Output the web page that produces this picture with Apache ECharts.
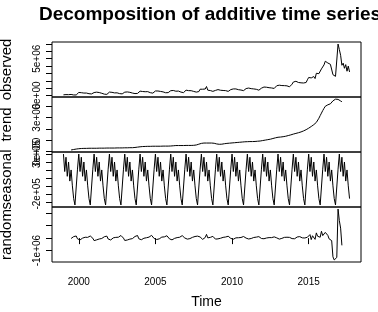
<!DOCTYPE html>
<html>
<head>
<meta charset="utf-8">
<script src="https://cdn.jsdelivr.net/npm/echarts@6/dist/echarts.min.js"></script>
<style>
  html, body { margin: 0; background: #fff; }
  #chart { width: 378px; height: 312px; }
</style>
</head>
<body>
<div id="chart"></div>
<script>
// monthly series, Jan 1999 .. Sep 2017; values in units of 1e5
const startYear = 1999
const freq = 12
const unit = 1e5
const trendOffset = 6 // trend / random lose half a year at each end

const observed = [
  0.9, 0.8, 1.2, 1.0, 1.1, 0.9, 1.4, 1.3, 0.7, 1.1, 0.7, 2.5,
  4.1, 3.3, 3.8, 3.5, 3.3, 3.0, 3.3, 2.1, 2.4, 1.4, 2.1, 3.5,
  4.0, 4.1, 4.5, 3.2, 4.0, 2.7, 3.0, 2.8, 1.8, 2.1, 1.5, 3.1,
  4.6, 3.7, 4.3, 4.1, 3.5, 3.3, 3.6, 2.5, 2.5, 2.1, 2.2, 4.0,
  4.5, 4.4, 4.8, 3.6, 4.3, 3.4, 3.3, 3.2, 2.6, 2.3, 2.8, 4.3,
  5.9, 5.1, 5.4, 5.2, 5.1, 4.4, 5.2, 4.0, 3.8, 3.7, 3.2, 5.1,
  6.1, 5.7, 6.1, 4.9, 5.5, 5.1, 4.9, 4.4, 3.7, 3.5, 3.9, 5.0,
  6.5, 5.7, 6.8, 5.8, 5.8, 5.2, 6.0, 4.6, 4.6, 4.1, 3.9, 6.1,
  7.2, 6.7, 6.6, 5.8, 6.5, 5.6, 5.5, 5.5, 4.6, 4.5, 5.3, 8.5,
  9.7, 8.5, 9.5, 8.8, 12.2, 7.2, 7.9, 6.7, 6.2, 5.6, 5.3, 6.9,
  8.4, 8.0, 8.2, 7.1, 7.8, 6.8, 7.0, 6.6, 5.9, 5.6, 5.8, 8.0,
  9.5, 8.9, 9.8, 8.9, 8.9, 7.9, 8.7, 7.4, 7.3, 6.6, 6.8, 9.4,
  10.8, 10.1, 10.7, 9.3, 10.0, 8.9, 9.1, 8.4, 7.7, 7.2, 7.2, 9.9,
  12.0, 11.5, 12.2, 11.2, 11.6, 10.6, 11.5, 10.2, 9.9, 9.6, 9.7, 13.3,
  15.1, 14.0, 15.4, 13.5, 14.5, 13.4, 13.7, 13.1, 12.3, 11.8, 12.4, 15.4,
  18.3, 17.3, 19.3, 18.0, 17.7, 17.6, 17.2, 16.5, 17.0, 15.6, 17.7, 21.3,
  24.5, 26.2, 23.9, 25.6, 25.8, 23.0, 30.2, 27.5, 29.7, 29.2, 36.2, 38.8,
  41.6, 46.6, 48.9, 44.2, 42.6, 42.4, 41.7, 28.3, 25.9, 26.0, 27.6, 70.0,
  62.5, 54.7, 41.1, 44.0, 37.0, 42.0, 33.0, 40.0, 32.0,
]

// Jul 1999 .. Mar 2017
const trend = [
  1.5, 1.7, 1.9, 2.1, 2.3, 2.5,
  2.6, 2.7, 2.8, 2.8, 2.9, 2.9, 2.9, 3.0, 3.0, 3.0, 3.0, 3.0,
  3.0, 3.0, 3.0, 3.1, 3.1, 3.1, 3.1, 3.1, 3.1, 3.1, 3.2, 3.2,
  3.2, 3.2, 3.2, 3.2, 3.2, 3.3, 3.3, 3.3, 3.3, 3.3, 3.3, 3.4,
  3.4, 3.4, 3.4, 3.4, 3.5, 3.5, 3.5, 3.6, 3.7, 3.8, 4.0, 4.2,
  4.3, 4.4, 4.5, 4.6, 4.6, 4.7, 4.7, 4.7, 4.7, 4.8, 4.8, 4.8,
  4.8, 4.8, 4.8, 4.8, 4.8, 4.9, 4.9, 4.9, 4.9, 4.9, 4.9, 5.0,
  5.0, 5.1, 5.2, 5.3, 5.4, 5.4, 5.4, 5.4, 5.4, 5.4, 5.4, 5.4,
  5.5, 5.5, 5.5, 5.5, 5.5, 5.6, 5.6, 5.7, 5.9, 6.2, 6.6, 7.0,
  7.3, 7.5, 7.6, 7.6, 7.6, 7.6, 7.6, 7.6, 7.6, 7.5, 7.4, 7.1,
  6.8, 6.6, 6.5, 6.5, 6.6, 6.8, 7.0, 7.2, 7.3, 7.4, 7.5, 7.6,
  7.7, 7.8, 7.9, 8.0, 8.1, 8.2, 8.3, 8.4, 8.5, 8.6, 8.7, 8.8,
  8.8, 8.8, 8.9, 8.9, 8.9, 9.0, 9.0, 9.1, 9.2, 9.3, 9.4, 9.6,
  9.8, 10.0, 10.2, 10.4, 10.6, 10.8, 11.0, 11.3, 11.6, 11.9, 12.2, 12.5,
  12.7, 12.8, 12.9, 13.0, 13.2, 13.4, 13.6, 13.9, 14.2, 14.5, 14.8, 15.2,
  15.5, 15.8, 16.1, 16.4, 16.7, 17.0, 17.4, 17.8, 18.3, 18.8, 19.4, 20.0,
  20.7, 21.4, 22.2, 23.0, 23.8, 24.6, 25.8, 27.5, 29.5, 31.8, 34.0, 36.2,
  38.2, 40.0, 40.8, 41.3, 41.6, 42.2, 43.5, 44.8, 45.8, 46.3, 46.4, 46.1,
  45.5, 44.7, 44.0,
]

// Jan 1999 .. Sep 2017
const seasonal = [
  3.0, 0.8, 2.6, 0.2, 2.0, -0.4, 1.0, -1.0, -2.6, -3.4, -3.3, 1.1,
  3.0, 0.8, 2.6, 0.2, 2.0, -0.4, 1.0, -1.0, -2.6, -3.4, -3.3, 1.1,
  3.0, 0.8, 2.6, 0.2, 2.0, -0.4, 1.0, -1.0, -2.6, -3.4, -3.3, 1.1,
  3.0, 0.8, 2.6, 0.2, 2.0, -0.4, 1.0, -1.0, -2.6, -3.4, -3.3, 1.1,
  3.0, 0.8, 2.6, 0.2, 2.0, -0.4, 1.0, -1.0, -2.6, -3.4, -3.3, 1.1,
  3.0, 0.8, 2.6, 0.2, 2.0, -0.4, 1.0, -1.0, -2.6, -3.4, -3.3, 1.1,
  3.0, 0.8, 2.6, 0.2, 2.0, -0.4, 1.0, -1.0, -2.6, -3.4, -3.3, 1.1,
  3.0, 0.8, 2.6, 0.2, 2.0, -0.4, 1.0, -1.0, -2.6, -3.4, -3.3, 1.1,
  3.0, 0.8, 2.6, 0.2, 2.0, -0.4, 1.0, -1.0, -2.6, -3.4, -3.3, 1.1,
  3.0, 0.8, 2.6, 0.2, 2.0, -0.4, 1.0, -1.0, -2.6, -3.4, -3.3, 1.1,
  3.0, 0.8, 2.6, 0.2, 2.0, -0.4, 1.0, -1.0, -2.6, -3.4, -3.3, 1.1,
  3.0, 0.8, 2.6, 0.2, 2.0, -0.4, 1.0, -1.0, -2.6, -3.4, -3.3, 1.1,
  3.0, 0.8, 2.6, 0.2, 2.0, -0.4, 1.0, -1.0, -2.6, -3.4, -3.3, 1.1,
  3.0, 0.8, 2.6, 0.2, 2.0, -0.4, 1.0, -1.0, -2.6, -3.4, -3.3, 1.1,
  3.0, 0.8, 2.6, 0.2, 2.0, -0.4, 1.0, -1.0, -2.6, -3.4, -3.3, 1.1,
  3.0, 0.8, 2.6, 0.2, 2.0, -0.4, 1.0, -1.0, -2.6, -3.4, -3.3, 1.1,
  3.0, 0.8, 2.6, 0.2, 2.0, -0.4, 1.0, -1.0, -2.6, -3.4, -3.3, 1.1,
  3.0, 0.8, 2.6, 0.2, 2.0, -0.4, 1.0, -1.0, -2.6, -3.4, -3.3, 1.1,
  3.0, 0.8, 2.6, 0.2, 2.0, -0.4, 1.0, -1.0, -2.6,
]

// Jul 1999 .. Mar 2017
const random = [
  -0.3, 1.1, 1.2, 2.3, 1.7, -0.6,
  -1.5, -1.4, -1.9, 0.0, -1.2, 0.7, 0.2, 0.6, 1.8, 1.7, 2.4, -0.1,
  -2.0, -0.9, -1.4, -0.6, -0.7, 0.2, -0.3, 1.2, 1.1, 2.3, 1.6, -0.7,
  -1.6, -1.5, -1.8, 0.2, -1.3, 0.6, 0.1, 0.7, 1.6, 2.1, 2.2, 0.0,
  -1.9, -1.0, -1.5, -0.5, -0.8, 0.5, -0.4, 1.1, 1.3, 1.8, 2.1, -0.5,
  -1.4, -1.3, -2.0, -0.1, -1.1, 0.3, 0.3, 0.8, 1.5, 2.2, 1.7, -0.3,
  -1.7, -1.1, -1.6, -0.6, -0.9, 0.8, -0.2, 1.0, 1.2, 1.9, 2.3, -0.6,
  -1.5, -1.4, -1.3, -0.2, -1.2, 0.4, 0.4, 0.7, 1.6, 2.0, 1.8, 0.1,
  -1.3, -0.8, -1.8, -0.4, -0.6, 0.6, -0.3, 1.3, 1.1, 1.6, 2.0, 0.9,
  -0.6, -1.0, -1.0, 0.5, 3.0, 0.2, 0.1, 0.6, 1.0, 1.4, 1.2, -0.8,
  -1.4, -0.6, -1.2, -0.1, -0.4, 0.6, -0.2, 0.9, 1.0, 1.5, 1.6, -0.2,
  -1.2, -0.9, -1.0, 0.2, -0.8, 0.3, 0.2, 0.5, 1.2, 1.3, 1.4, 0.0,
  -1.0, -0.7, -1.1, -0.3, -0.5, 0.5, -0.1, 0.8, 0.9, 1.2, 1.1, -0.3,
  -0.8, -0.5, -0.9, 0.1, -0.6, 0.4, 0.3, 0.4, 0.7, 1.0, 0.8, 0.2,
  -0.6, -0.8, -0.4, -0.2, -0.3, 0.6, -0.1, 0.7, 0.5, 0.6, 0.9, -0.4,
  -0.2, -0.5, 0.3, 0.9, -0.6, 1.2, -0.4, 0.2, 1.1, 0.1, 1.6, 0.7,
  0.8, 2.8, -1.2, 1.9, 0.4, -1.0, 4.2, 1.5, 2.6, 0.7, 5.5, 2.0,
  0.4, 4.6, 5.2, 2.2, -0.6, 0.8, -2.0, -15.0, -17.5, -17.0, -15.5, 23.3,
  14.0, 8.0, -5.8,
]

const panelNames = ['observed', 'trend', 'seasonal', 'random']
// y ticks / labelled ticks per panel (units of 1e5)
const yTicks = [
  [0, 10, 20, 30, 40, 50, 60, 70],
  [0, 10, 20, 30, 40],
  [-3, -2, -1, 0, 1, 2, 3],
  [-10, 0, 10, 20],
]
const yLabels = [[0, 50], [0, 30], [-2, 3], [-10]]
const xTicks = [2000, 2005, 2010, 2015]

const font = 'Liberation Sans, Arial, sans-serif'

// R-style "5e+06"
function sci(v) {
  if (v === 0) return '0e+00'
  const e = Math.floor(Math.log10(Math.abs(v)) + 1e-9)
  const m = Math.round(v / Math.pow(10, e))
  return m + 'e' + (e < 0 ? '-' : '+') + String(Math.abs(e)).padStart(2, '0')
}

// R pads the data range by 4% on each side
function padRange(arr) {
  const lo = Math.min(...arr), hi = Math.max(...arr)
  const p = (hi - lo) * 0.04
  return [lo - p, hi + p]
}

const toPairs = (arr, offset) => arr.map((v, i) => [startYear + (i + offset) / freq, v])

const seriesData = [
  toPairs(observed, 0),
  toPairs(trend, trendOffset),
  toPairs(seasonal, 0),
  toPairs(random, trendOffset),
]
const allTimes = seriesData[0].map(d => d[0])
const xLim = padRange(allTimes)

const tops = [42, 97, 152, 207]
const panelH = 55

const chart = echarts.init(document.getElementById('chart'))
chart.setOption({
  animation: false,
  title: {
    text: 'Decomposition of additive time series',
    left: 205, top: 0, textAlign: 'center',
    textStyle: { fontFamily: font, fontSize: 19, fontWeight: 'bold', color: '#000' },
  },
  grid: tops.map(top => ({
    left: 52, right: 17, top, height: panelH,
    outerBoundsMode: 'none', containLabel: false,
    show: true, borderColor: '#000', borderWidth: 1, backgroundColor: 'transparent',
  })),
  xAxis: tops.map((_, i) => {
    const last = i === tops.length - 1
    return {
      gridIndex: i, type: 'value', min: xLim[0], max: xLim[1],
      axisLine: { show: false },
      splitLine: { show: false },
      axisTick: { show: last, length: 6, lineStyle: { color: '#000' }, customValues: xTicks },
      axisLabel: {
        show: last, margin: 15, fontFamily: font, fontSize: 10, color: '#000',
        customValues: xTicks, formatter: v => String(v),
      },
      name: last ? 'Time' : '', nameLocation: 'middle', nameGap: 33,
      nameTextStyle: { fontFamily: font, fontSize: 14, color: '#000' },
    }
  }),
  yAxis: tops.map((_, i) => {
    const [lo, hi] = padRange(seriesData[i].map(d => d[1]))
    return {
      gridIndex: i, type: 'value', min: lo, max: hi,
      name: panelNames[i], nameLocation: 'middle', nameRotate: 90, nameGap: 38,
      nameTextStyle: { fontFamily: font, fontSize: 15, color: '#000' },
      axisLine: { show: false },
      splitLine: { show: false },
      axisTick: { show: true, length: 6, lineStyle: { color: '#000' }, customValues: yTicks[i] },
      axisLabel: {
        rotate: 90, margin: 10, fontFamily: font, fontSize: 10, color: '#000',
        customValues: yLabels[i], formatter: v => sci(v * unit),
      },
    }
  }),
  series: seriesData.map((data, i) => ({
    type: 'line', xAxisIndex: i, yAxisIndex: i, data,
    symbol: 'none', silent: true,
    lineStyle: { color: '#000', width: 1 },
  })),
})
</script>
</body>
</html>
